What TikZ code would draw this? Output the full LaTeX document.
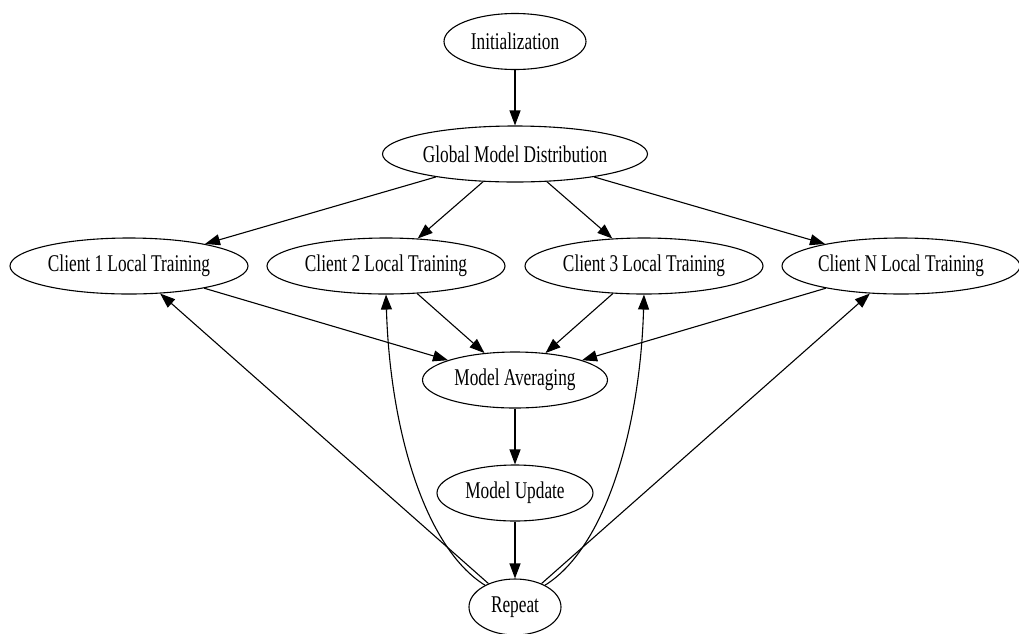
\documentclass[tikz,border=0pt]{standalone}
\usepackage{fontspec}
\setmainfont{Liberation Serif}[FakeStretch=0.72]
\usetikzlibrary{arrows.meta,shapes.geometric}
\begin{document}
\begin{tikzpicture}[x=1pt,y=-1pt,
  state/.style={ellipse, draw, line width=1.1pt, inner sep=0pt,
    minimum height=56pt, font=\fontsize{24}{28}\selectfont},
  arr/.style={line width=1.1pt, -{Triangle[length=15pt,width=11pt]}}]
\useasboundingbox (0,0) rectangle (1019,633);

% nodes
\node[state, minimum width=142pt] (init) at (515,41.5) {Initialization};
\node[state, minimum width=265pt] (gmd)  at (515,154) {Global Model Distribution};
\node[state, minimum width=238pt] (c1)   at (129,266) {Client 1 Local Training};
\node[state, minimum width=238pt] (c2)   at (386,266) {Client 2 Local Training};
\node[state, minimum width=238pt] (c3)   at (644,266) {Client 3 Local Training};
\node[state, minimum width=238pt] (cn)   at (901,266) {Client N Local Training};
\node[state, minimum width=185pt] (avg)  at (515,380) {Model Averaging};
\node[state, minimum width=156pt] (upd)  at (515,493) {Model Update};
\node[state, minimum width=92pt]  (rep)  at (515,607) {Repeat};

% distribution
\draw[arr] (init) -- (gmd);
\draw[arr] (gmd) -- (c1);
\draw[arr] (gmd) -- (c2);
\draw[arr] (gmd) -- (c3);
\draw[arr] (gmd) -- (cn);

% aggregation
\draw[arr] (c1) -- (avg);
\draw[arr] (c2) -- (avg);
\draw[arr] (c3) -- (avg);
\draw[arr] (cn) -- (avg);
\draw[arr] (avg) -- (upd);
\draw[arr] (upd) -- (rep);

% next round
\draw[arr] (rep) -- (c1);
\draw[arr] (rep) -- (cn);
\draw[arr] (rep.144) .. controls (425,548) and (390,430) .. (c2.south);
\draw[arr] (rep.36) .. controls (605,548) and (640,430) .. (c3.south);
\end{tikzpicture}
\end{document}
